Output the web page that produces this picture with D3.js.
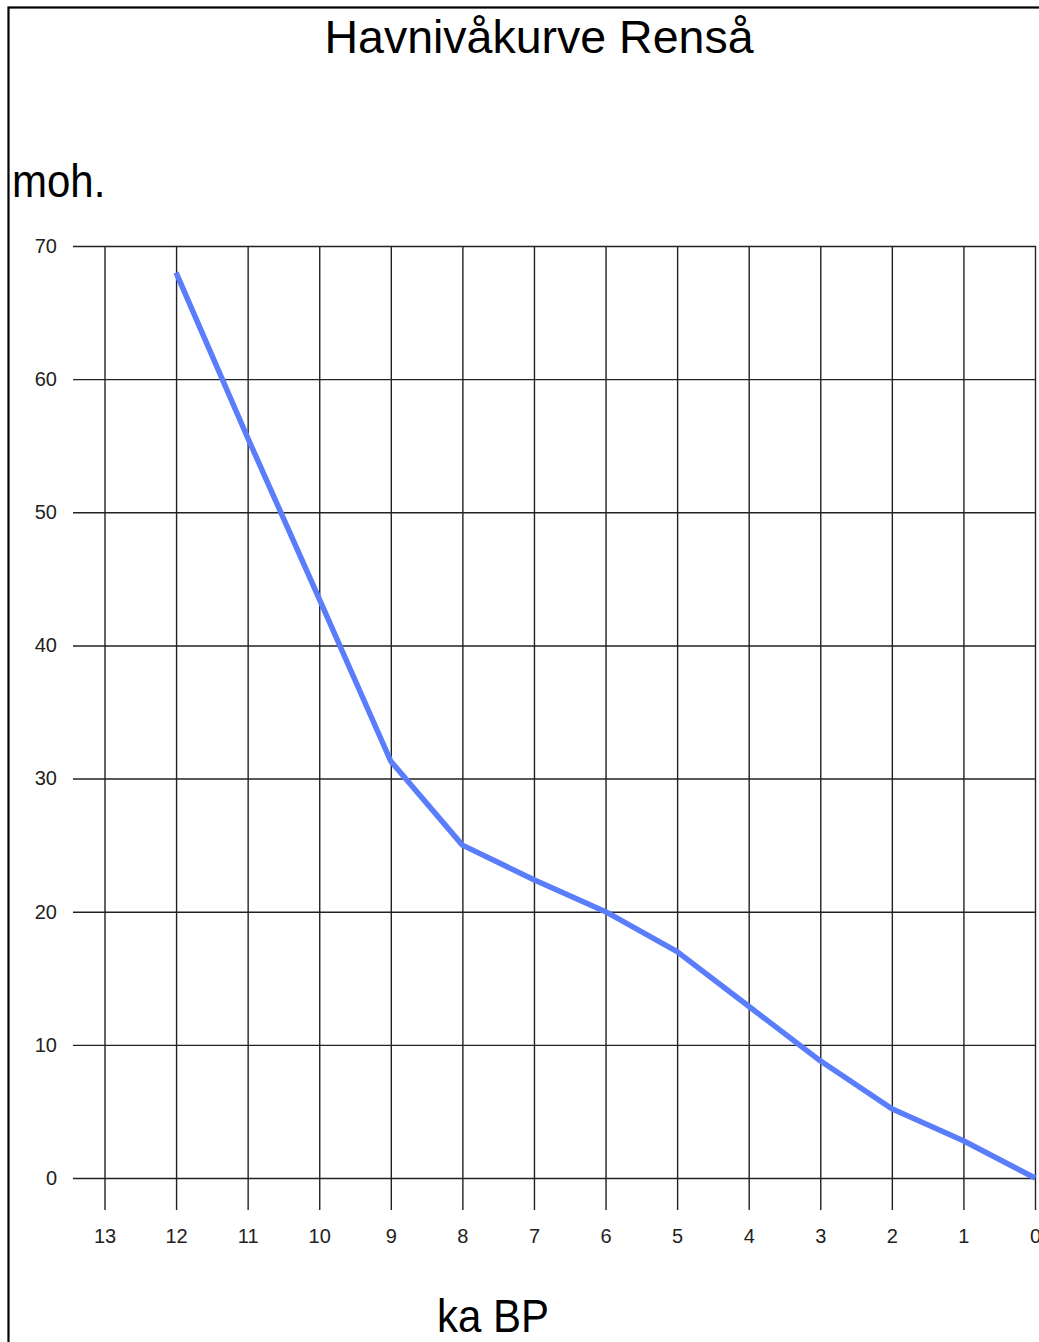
<!DOCTYPE html>
<html>
<head>
<meta charset="utf-8">
<script src="https://cdn.jsdelivr.net/npm/d3@7"></script>
<style>
  body { margin: 0; background: #fff; }
  svg { display: block; font-family: "Liberation Sans", Arial, sans-serif; }
</style>
</head>
<body>
<svg id="chart"></svg>
<script>
// ka BP (thousand years before present) and sea level in m above sea level
const years = [12, 11, 10, 9, 8, 7, 6, 5, 4, 3, 2, 1, 0]
const levels = [68, 55.6, 43.5, 31.3, 25, 22.4, 20, 17, 12.9, 8.8, 5.2, 2.8, 0]
const xTicks = [13, 12, 11, 10, 9, 8, 7, 6, 5, 4, 3, 2, 1, 0]
const yTicks = [0, 10, 20, 30, 40, 50, 60, 70]

const dimensions = { width: 1039, height: 1342 }
const svg = d3.select('#chart')
  .attr('width', dimensions.width)
  .attr('height', dimensions.height)

// frame (only left/top edge visible)
svg.append('rect')
  .attr('x', 8.5).attr('y', 7.5)
  .attr('width', 1200).attr('height', 1500)
  .attr('fill', 'none')
  .attr('stroke', '#000')
  .attr('stroke-width', 2.2)

const x = d3.scaleLinear().domain([13, 0]).range([104.5, 1035])
const y = d3.scaleLinear().domain([0, 70]).range([1178, 246])

const left = 73, bottom = 1210

// horizontal grid + y labels
svg.append('g')
  .attr('transform', `translate(${left},0)`)
  .call(d3.axisLeft(y).tickValues(yTicks).tickSize(-(1036 - left)).tickPadding(16))
  .call(g => g.select('.domain').remove())
  .call(g => g.selectAll('line').attr('stroke', '#222').attr('stroke-width', 1.4))
  .call(g => g.selectAll('text').attr('font-size', 20).attr('fill', '#222')
    .attr('font-family', '"Liberation Sans", Arial, sans-serif'))

// vertical grid + x labels
svg.append('g')
  .attr('transform', `translate(0,${bottom})`)
  .call(d3.axisBottom(x).tickValues(xTicks).tickSize(-(bottom - 246)).tickPadding(19))
  .call(g => g.select('.domain').remove())
  .call(g => g.selectAll('line').attr('stroke', '#222').attr('stroke-width', 1.4))
  .call(g => g.selectAll('text').attr('font-size', 20).attr('fill', '#222')
    .attr('font-family', '"Liberation Sans", Arial, sans-serif'))

const data = years.map((d, i) => ({ year: d, level: levels[i] }))

svg.append('path')
  .datum(data)
  .attr('d', d3.line()
    .x(function (d) { return x(d.year) })
    .y(function (d) { return y(d.level) })
  )
  .attr('fill', 'none')
  .attr('stroke', '#5a7dfb')
  .attr('stroke-width', 5.5)
  .attr('stroke-linejoin', 'round')

svg.append('text')
  .attr('x', 539).attr('y', 53)
  .attr('text-anchor', 'middle')
  .attr('font-size', 46.5)
  .text('Havnivåkurve Renså')

svg.append('text')
  .attr('transform', 'translate(12,197) scale(1,1.1)')
  .attr('font-size', 42)
  .text('moh.')

svg.append('text')
  .attr('transform', 'translate(493,1332) scale(1,1.1)')
  .attr('text-anchor', 'middle')
  .attr('font-size', 42)
  .text('ka BP')
</script>
</body>
</html>
